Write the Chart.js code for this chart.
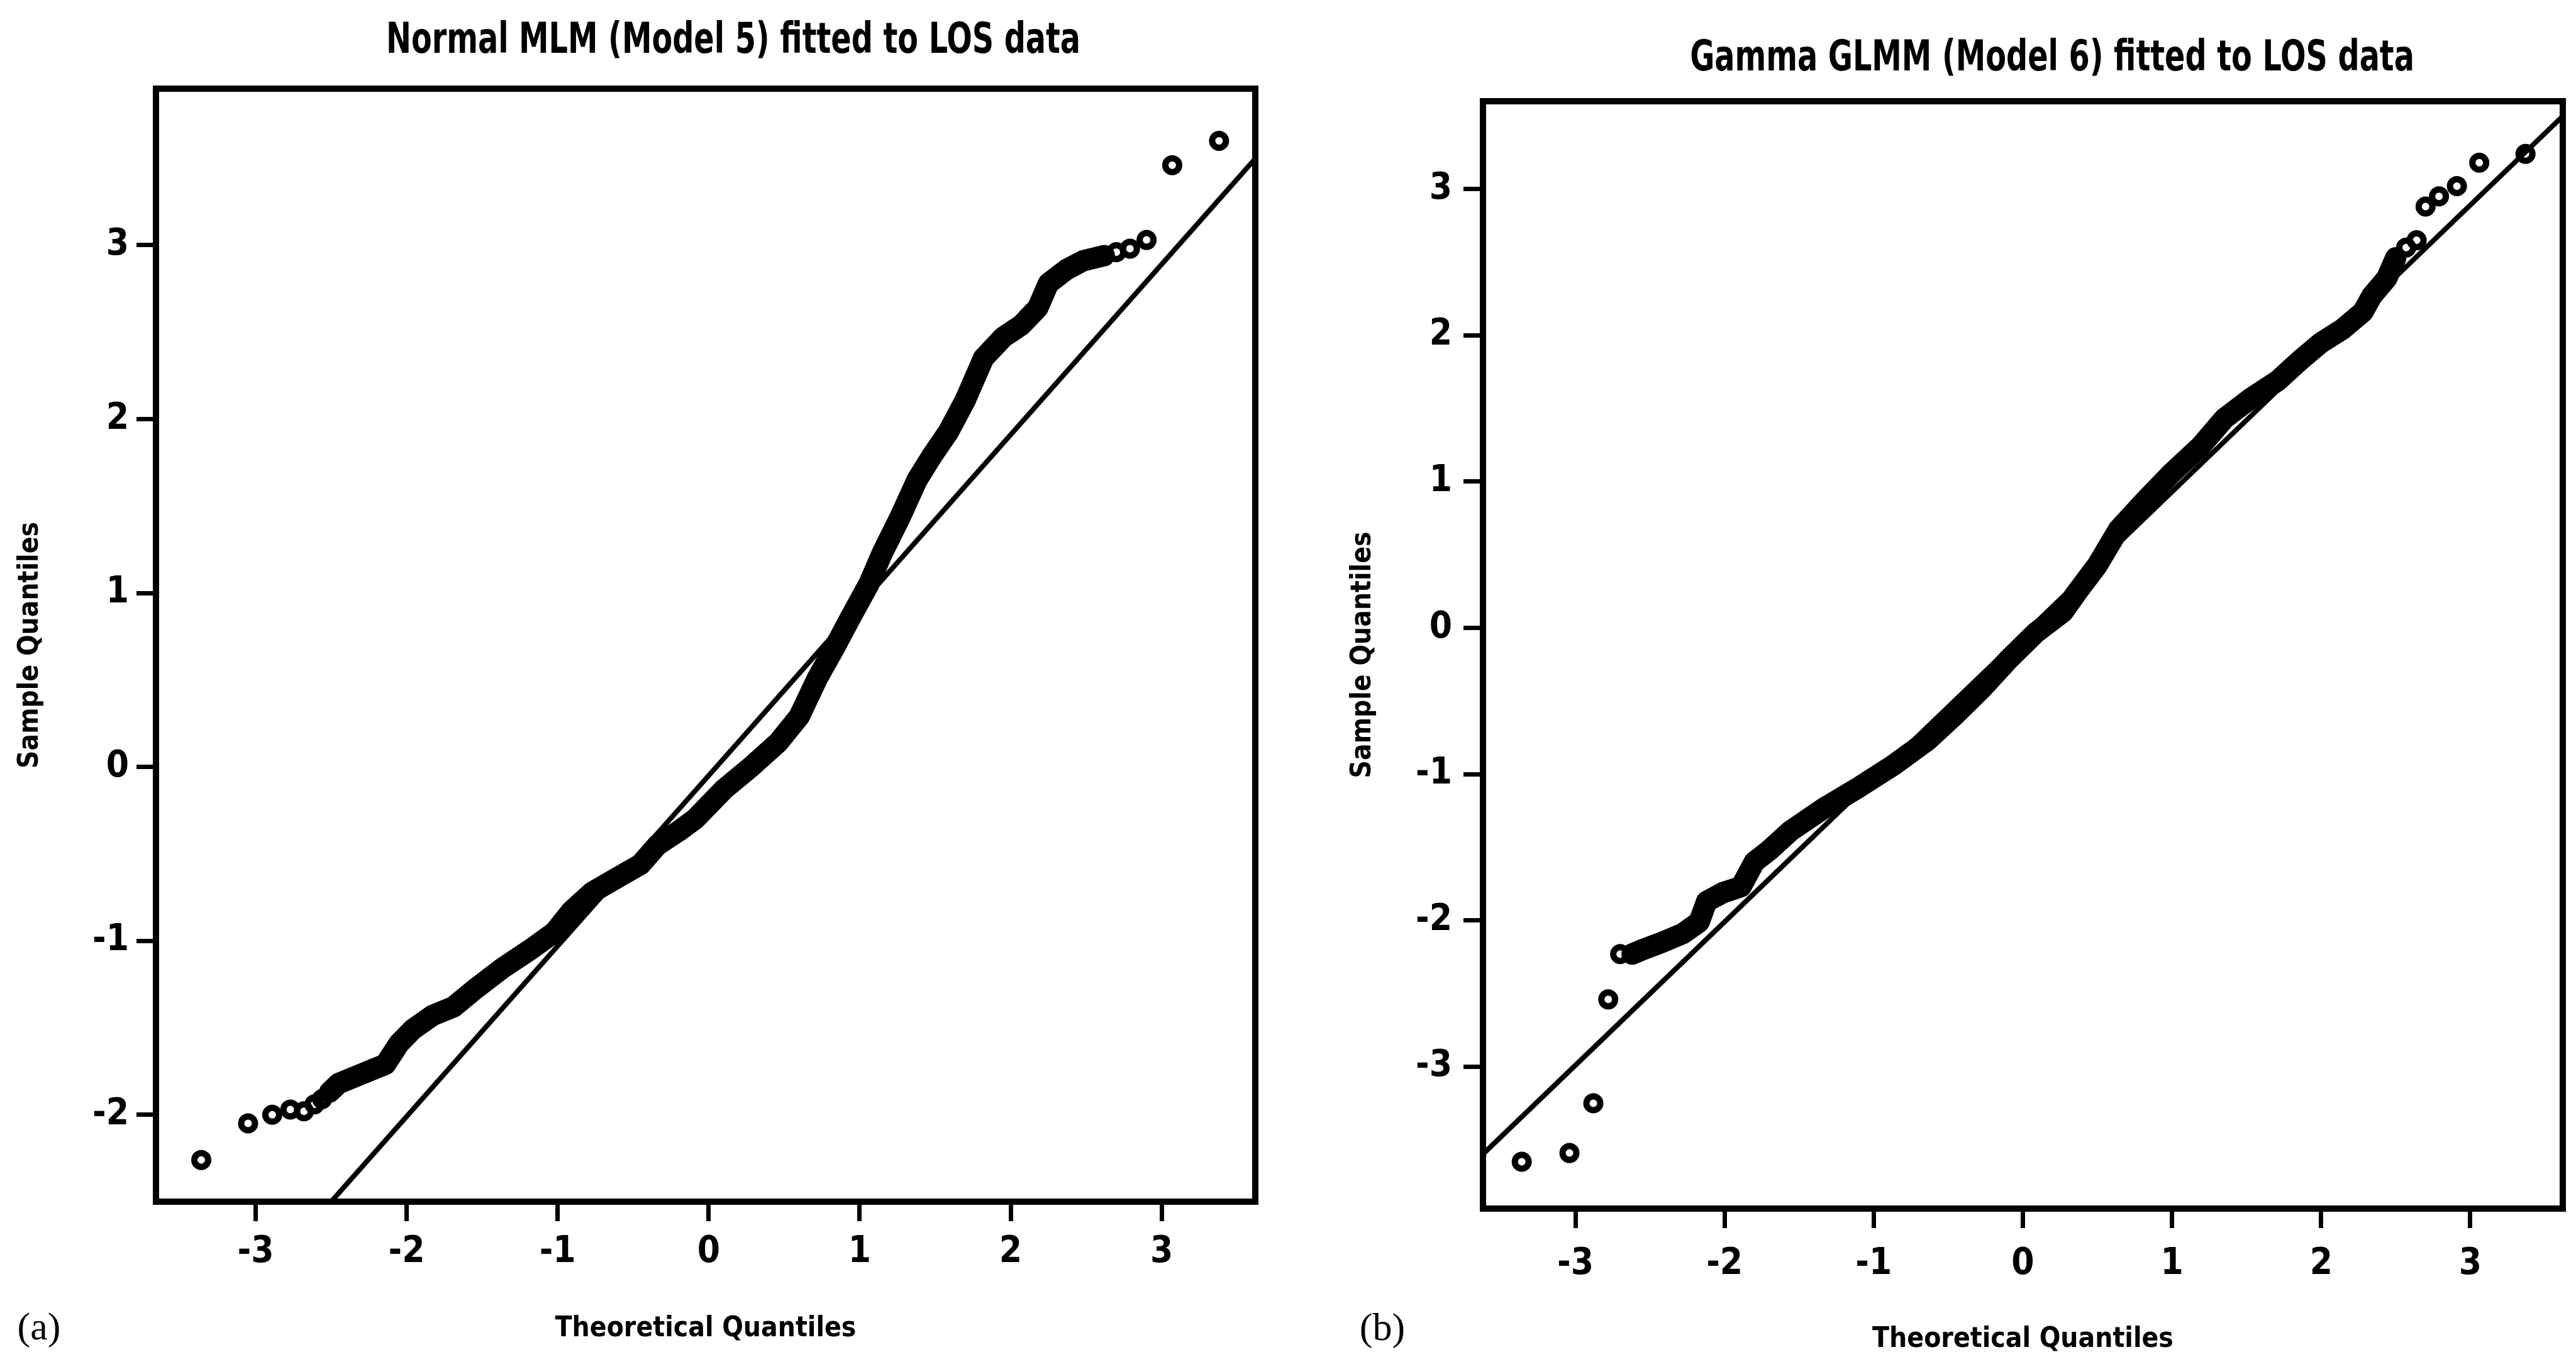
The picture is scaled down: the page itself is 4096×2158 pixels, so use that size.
<!DOCTYPE html>
<html>
<head>
<meta charset="utf-8">
<title>LOS data QQ plots</title>
<script src="https://cdn.jsdelivr.net/npm/chart.js@4.4.1/dist/chart.umd.min.js"></script>
<style>
  html, body { margin: 0; padding: 0; background: #fff; }
  body { width: 4096px; height: 2158px; position: relative; overflow: hidden; }
  canvas { position: absolute; top: 0; }
  #qqNormal { left: 0; }
  #qqGamma { left: 2048px; }
</style>
</head>
<body>
<canvas id="qqNormal" width="2048" height="2158"></canvas>
<canvas id="qqGamma" width="2048" height="2158"></canvas>
<script>
// (a) Normal MLM residuals: dense run of points, then the odd ones at the ends
var normalBandX = [-2.51, -2.45, -2.28, -2.14, -2.05, -1.96, -1.83, -1.69, -1.55, -1.37,
                   -1.18, -1.02, -0.91, -0.77, -0.61, -0.45, -0.34, -0.20, -0.09, 0.10,
                   0.28, 0.46, 0.60, 0.72, 0.83, 0.94, 1.06, 1.15, 1.27, 1.38,
                   1.48, 1.59, 1.70, 1.82, 1.95, 2.07, 2.18, 2.25, 2.37, 2.48, 2.62];
var normalBandY = [-1.87, -1.82, -1.76, -1.71, -1.59, -1.51, -1.43, -1.38, -1.28, -1.16,
                   -1.05, -0.95, -0.83, -0.72, -0.64, -0.56, -0.45, -0.37, -0.30, -0.13,
                   0.00, 0.14, 0.29, 0.51, 0.68, 0.86, 1.05, 1.23, 1.44, 1.65,
                   1.79, 1.93, 2.11, 2.35, 2.47, 2.54, 2.64, 2.78, 2.86, 2.91, 2.94];
var normalTailX = [-3.36, -3.05, -2.89, -2.77, -2.68, -2.61, -2.56, 2.70, 2.79, 2.90, 3.07, 3.38];
var normalTailY = [-2.26, -2.05, -2.00, -1.97, -1.98, -1.94, -1.91, 2.96, 2.98, 3.03, 3.46, 3.60];
var normalLine = [-0.05, 0.98]; // qqline intercept, slope

// (b) Gamma GLMM residuals
var gammaBandX = [-2.62, -2.55, -2.42, -2.28, -2.17, -2.12, -2.01, -1.89, -1.80, -1.70,
                  -1.56, -1.33, -1.10, -0.87, -0.64, -0.46, -0.28, -0.10, 0.09, 0.27,
                  0.36, 0.50, 0.64, 0.82, 1.00, 1.19, 1.35, 1.53, 1.71, 1.86,
                  2.00, 2.14, 2.28, 2.34, 2.44, 2.50];
var gammaBandY = [-2.23, -2.20, -2.15, -2.09, -2.01, -1.87, -1.81, -1.77, -1.60, -1.52,
                  -1.39, -1.23, -1.09, -0.94, -0.77, -0.60, -0.42, -0.22, -0.03, 0.11,
                  0.24, 0.43, 0.67, 0.87, 1.06, 1.24, 1.43, 1.57, 1.69, 1.83,
                  1.95, 2.04, 2.16, 2.27, 2.39, 2.53];
var gammaTailX = [-3.36, -3.04, -2.88, -2.78, -2.70, 2.57, 2.64, 2.70, 2.79, 2.91, 3.06, 3.37];
var gammaTailY = [-3.65, -3.59, -3.25, -2.54, -2.23, 2.60, 2.65, 2.88, 2.95, 3.02, 3.18, 3.24];
var gammaLine = [-0.05, 0.98];

var FONT = '"DejaVu Sans Condensed", "Liberation Sans", sans-serif';

function pts(xs, ys) {
    return xs.map(function (x, i) { return { x: x, y: ys[i] }; });
}

// frame round the plot region, main title (squeezed narrow) and the (a)/(b) tag
var panelText = {
    id: 'panelText',
    afterDraw: function (chart, args, opts) {
        var ctx = chart.ctx, a = chart.chartArea;
        ctx.save();
        ctx.strokeStyle = '#000';
        ctx.lineWidth = 10;
        ctx.strokeRect(a.left, a.top, a.right - a.left, a.bottom - a.top);
        ctx.fillStyle = '#000';
        ctx.textAlign = 'center';
        ctx.textBaseline = 'alphabetic';
        ctx.font = 'bold 68px ' + FONT;
        ctx.save();
        ctx.translate(opts.titleX, opts.titleY);
        ctx.scale(0.78, 1);
        ctx.fillText(opts.title, 0, 0);
        ctx.restore();
        ctx.font = '62px "Liberation Serif", serif';
        ctx.textBaseline = 'middle';
        ctx.fillText(opts.tag, opts.tagX, opts.tagY);
        ctx.restore();
    }
};

function BuildQQ(canvasId, c) {
    var ctx = document.getElementById(canvasId).getContext('2d');
    var ends = [c.xMin - 0.3, c.xMax + 0.3];
    var tickFont = { family: FONT, size: 58, weight: 'bold' };
    var titleFont = { family: FONT, size: 44, weight: 'bold', lineHeight: 1 };
    var grid = { display: true, drawOnChartArea: false, drawTicks: true,
                 tickLength: 31, tickWidth: 7, tickColor: '#000' };
    return new Chart(ctx, {
        type: 'scatter',
        data: {
            datasets: [{
                type: 'line', // reference line
                data: ends.map(function (x) { return { x: x, y: c.line[0] + c.line[1] * x }; }),
                borderColor: '#000', borderWidth: 8, pointRadius: 0, fill: false
            }, {
                type: 'line', // overlapping points form a solid band
                data: pts(c.bandX, c.bandY),
                borderColor: '#000', borderWidth: 34, pointRadius: 0, fill: false,
                borderJoinStyle: 'round', borderCapStyle: 'round', tension: 0
            }, {
                data: pts(c.tailX, c.tailY),
                pointStyle: 'circle', pointRadius: 11, borderWidth: 10,
                borderColor: '#000', backgroundColor: 'rgba(0,0,0,0)'
            }]
        },
        options: {
            responsive: false,
            animation: false,
            devicePixelRatio: 1,
            events: [],
            layout: { padding: c.padding },
            plugins: {
                legend: { display: false },
                tooltip: { enabled: false },
                panelText: c.text
            },
            scales: {
                x: {
                    type: 'linear', min: c.xMin, max: c.xMax,
                    grid: grid, border: { display: false },
                    ticks: { stepSize: 1, includeBounds: false, color: '#000',
                             font: tickFont, padding: c.xTickPad, maxRotation: 0 },
                    title: { display: true, text: 'Theoretical Quantiles', color: '#000',
                             font: titleFont, padding: { top: 0, bottom: c.xTitlePad } },
                    afterFit: function (s) { s.height = c.xAxisHeight; }
                },
                y: {
                    type: 'linear', min: c.yMin, max: c.yMax,
                    grid: grid, border: { display: false },
                    ticks: { stepSize: 1, includeBounds: false, color: '#000',
                             font: tickFont, padding: c.yTickPad },
                    title: { display: true, text: 'Sample Quantiles', color: '#000',
                             font: titleFont, padding: { top: c.yTitlePad, bottom: 0 } },
                    afterFit: function (s) { s.width = c.yAxisWidth; }
                }
            }
        },
        plugins: [panelText]
    });
}

window.onload = function () {
    BuildQQ('qqNormal', {
        bandX: normalBandX, bandY: normalBandY, tailX: normalTailX, tailY: normalTailY,
        line: normalLine,
        xMin: -3.66, xMax: 3.62, yMin: -2.5, yMax: 3.9,
        padding: { top: 141, right: 52, bottom: 0, left: 0 },
        xAxisHeight: 247, yAxisWidth: 248,
        xTickPad: 15, yTickPad: 12, xTitlePad: 22, yTitlePad: 27,
        text: { title: 'Normal MLM (Model 5) fitted to LOS data', titleX: 1166, titleY: 84,
                tag: '(a)', tagX: 62, tagY: 2114 }
    });
    BuildQQ('qqGamma', {
        bandX: gammaBandX, bandY: gammaBandY, tailX: gammaTailX, tailY: gammaTailY,
        line: gammaLine,
        xMin: -3.62, xMax: 3.62, yMin: -3.97, yMax: 3.6,
        padding: { top: 161, right: 7, bottom: 0, left: 0 },
        xAxisHeight: 236, yAxisWidth: 310,
        xTickPad: 23, yTickPad: 18, xTitlePad: 5, yTitlePad: 98,
        text: { title: 'Gamma GLMM (Model 6) fitted to LOS data', titleX: 1215, titleY: 112,
                tag: '(b)', tagX: 150, tagY: 2115 }
    });
};
</script>
</body>
</html>
